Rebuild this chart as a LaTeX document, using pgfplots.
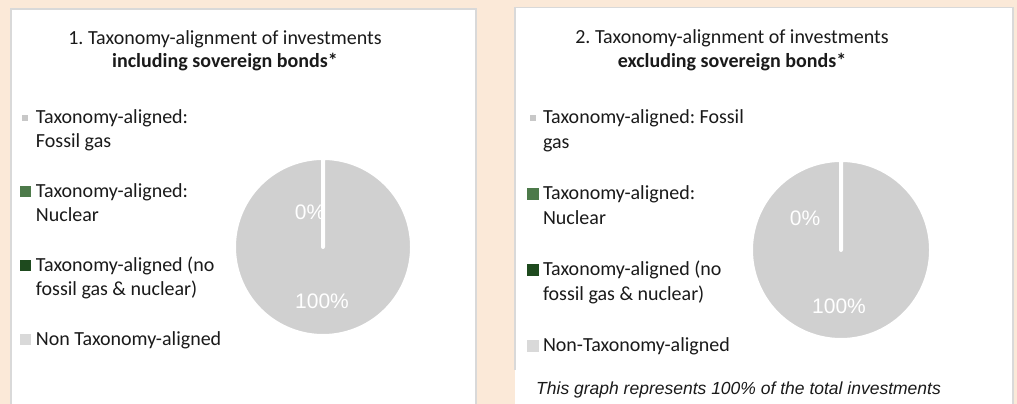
\documentclass[border=0pt]{standalone}
\usepackage{pgfplots}
\pgfplotsset{compat=1.18}
\usepackage{pgfplotstable}
\usepackage{fontspec}
\setmainfont{Carlito}
\newfontfamily\arial{Liberation Sans}
\frenchspacing
\definecolor{bg}{HTML}{FBE9D8}
\definecolor{panelborder}{HTML}{D9D9D9}
\definecolor{piegrey}{HTML}{D0D0D0}
\definecolor{gasc}{HTML}{C8C8C8}
\definecolor{nucc}{HTML}{4D7A4A}
\definecolor{greenc}{HTML}{1E4A1E}
\definecolor{nonc}{HTML}{D9D9D9}
\definecolor{txt}{HTML}{1A1A1A}

% slice shares (percent)
\pgfplotstableread{
slice share
gas 0
nuclear 0
other 0
non 100
}\pieone
\pgfplotstableread{
slice share
gas 0
nuclear 0
other 0
non 100
}\pietwo

\pgfplotsset{
  fullimg/.style={
    width=1017pt, height=404pt, scale only axis,
    xmin=0, xmax=1017, ymin=0, ymax=404,
    hide axis, clip=false, at={(0pt,0pt)}, anchor=south west,
  },
  sq/.style n args={3}{legend image code/.code={%
     \path[draw=none, fill=none] (0pt,0pt) rectangle (11pt,12pt);
     \path[draw=none, fill=#1] (#2) rectangle (#3);}},
  mylegend/.style={
     legend style={draw=none, fill=none, inner sep=0pt, outer sep=0pt,
       font=\fontsize{20}{24}\selectfont\color{txt},
       cells={anchor=base west, inner sep=0pt}},
  },
}

\begin{document}
\begin{tikzpicture}[x=1pt,y=1pt]
\useasboundingbox (0,0) rectangle (1017,404);
\fill[bg] (0,0) rectangle (1017,404);
% panels
\fill[white] (11,0) rectangle (476,395);
\draw[panelborder, line width=1.5pt] (11,0) -- (11,395) -- (476,395) -- (476,0);
\fill[white] (515,0) rectangle (1013,396.5);
\draw[panelborder, line width=1.5pt] (515,34) -- (515,396.5) -- (1013,396.5) -- (1013,0);

% titles
\node[txt, font=\fontsize{20}{24}\selectfont] at (225,365) {1. Taxonomy-alignment of investments};
\node[txt, font=\fontsize{20}{24}\selectfont\bfseries] at (225,342) {including sovereign bonds*};
\node[txt, font=\fontsize{20}{24}\selectfont] at (732,366) {2. Taxonomy-alignment of investments};
\node[txt, font=\fontsize{20}{24}\selectfont\bfseries] at (732,342) {excluding sovereign bonds*};
% footnote
\node[txt, anchor=west, inner sep=0pt, font=\arial\fontsize{17.5}{20}\selectfont\itshape] at (536,14) {This graph represents 100\% of the total investments};

% ---------- chart 1 ----------
\begin{axis}[fullimg, mylegend,
   legend style={at={(20/1017,296/404)}, anchor=north west, row sep=54.3pt, column sep=3pt}]
  % 100% slice (Non Taxonomy-aligned), white slice borders
  \addplot[forget plot, fill=piegrey, draw=white, line width=4pt, line join=round,
           domain=90:-270, samples=241]
     ({323+89*cos(x)},{157+89*sin(x)}) -- (axis cs:323,157) -- cycle;
  \addplot[forget plot, only marks, mark=none, nodes near coords,
           point meta=explicit symbolic,
           nodes near coords style={white, anchor=center, font=\arial\fontsize{21}{24}\selectfont}]
     coordinates {(310,192) [0\%] (322,103) [100\%]};
  \addlegendimage{draw=none, sq={gasc}{2.5pt,3pt}{8.5pt,9pt}}
  \addlegendentry{\parbox[t][74pt][t]{260pt}{Taxonomy-aligned:\\Fossil gas}}
  \addlegendimage{draw=none, sq={nucc}{0pt,0.5pt}{11pt,11.5pt}}
  \addlegendentry{\parbox[t][74pt][t]{260pt}{Taxonomy-aligned:\\Nuclear}}
  \addlegendimage{draw=none, sq={greenc}{0pt,0.5pt}{11pt,11.5pt}}
  \addlegendentry{\parbox[t][74pt][t]{260pt}{Taxonomy-aligned (no\\fossil gas \& nuclear)}}
  \addlegendimage{draw=none, sq={nonc}{0pt,0.5pt}{11pt,11.5pt}}
  \addlegendentry{\parbox[t][74pt][t]{260pt}{Non Taxonomy-aligned}}
\end{axis}

% ---------- chart 2 ----------
\begin{axis}[fullimg, mylegend,
   legend style={at={(527/1017,296/404)}, anchor=north west, row sep=56.3pt, column sep=2pt}]
  \addplot[forget plot, fill=piegrey, draw=white, line width=4pt, line join=round,
           domain=90:-270, samples=241]
     ({841+90*cos(x)},{154+90*sin(x)}) -- (axis cs:841,154) -- cycle;
  \addplot[forget plot, only marks, mark=none, nodes near coords,
           point meta=explicit symbolic,
           nodes near coords style={white, anchor=center, font=\arial\fontsize{21}{24}\selectfont}]
     coordinates {(805,186) [0\%] (839,98) [100\%]};
  \addlegendimage{draw=none, sq={gasc}{3pt,3pt}{9pt,9pt}}
  \addlegendentry{\parbox[t][76pt][t]{260pt}{\baselineskip=25pt Taxonomy-aligned: Fossil\\gas}}
  \addlegendimage{draw=none, sq={nucc}{0pt,0pt}{12pt,12pt}}
  \addlegendentry{\parbox[t][76pt][t]{260pt}{\baselineskip=25pt Taxonomy-aligned:\\Nuclear}}
  \addlegendimage{draw=none, sq={greenc}{0pt,0pt}{12pt,12pt}}
  \addlegendentry{\parbox[t][76pt][t]{260pt}{\baselineskip=25pt Taxonomy-aligned (no\\fossil gas \& nuclear)}}
  \addlegendimage{draw=none, sq={nonc}{0pt,0pt}{12pt,12pt}}
  \addlegendentry{\parbox[t][76pt][t]{260pt}{Non-Taxonomy-aligned}}
\end{axis}
\end{tikzpicture}
\end{document}
